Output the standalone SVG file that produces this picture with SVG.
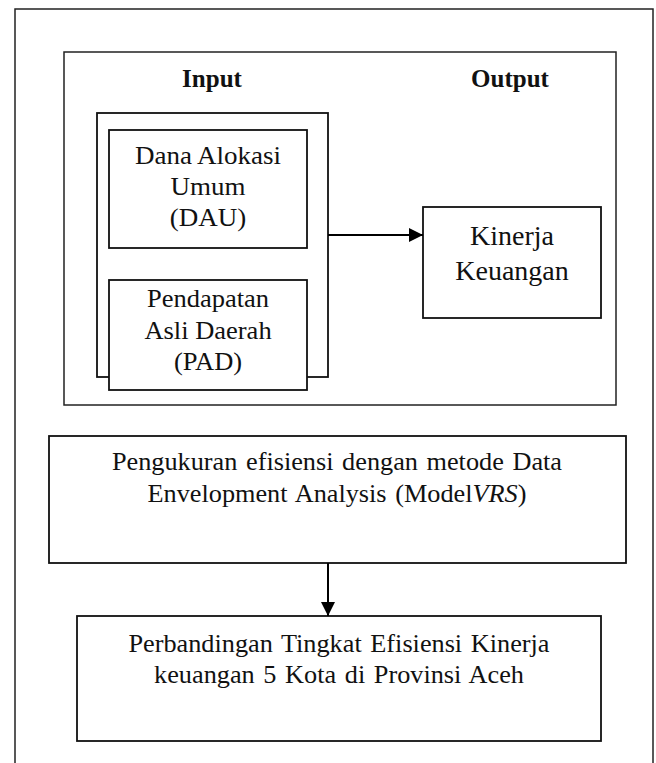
<svg xmlns="http://www.w3.org/2000/svg" width="656" height="763" viewBox="0 0 656 763">
<style>
.box{fill:#fff;stroke:#111;stroke-width:1.8}
.frame{fill:none;stroke:#222;stroke-width:1.5}
.t{font-family:"Liberation Serif","Times New Roman",serif;fill:#111;text-anchor:middle}
.b{font-weight:bold;font-size:25px}
.m{font-size:25px}
.k{font-size:28px}
.s{font-size:25px;word-spacing:2px}
.conn{fill:none;stroke:#000;stroke-width:2}
</style>
<defs>
<marker id="arr" viewBox="0 0 14 14" refX="14" refY="7" markerWidth="14" markerHeight="14" markerUnits="userSpaceOnUse" orient="auto">
<path d="M0,0 L14,7 L0,14 Z" fill="#000"/>
</marker>
</defs>
<rect id="outer-frame" class="frame" x="15" y="9" width="638" height="770"/>
<g id="model-frame">
<rect class="frame" x="64" y="52" width="552" height="353"/>
<text class="t b" x="212" y="87">Input</text>
<text class="t b" x="510" y="87">Output</text>
</g>
<g id="input-group">
<rect class="box" x="97" y="113" width="231" height="264"/>
</g>
<g id="dau">
<rect class="box" x="109" y="130" width="198" height="118"/>
<text class="t m" transform="translate(208,0) scale(1.08,1)" x="0" y="164">Dana Alokasi</text>
<text class="t m" transform="translate(208,0) scale(1.08,1)" x="0" y="195">Umum</text>
<text class="t m" transform="translate(208,0) scale(1.08,1)" x="0" y="226">(DAU)</text>
</g>
<g id="pad">
<rect class="box" x="109" y="280" width="198" height="110"/>
<text class="t m" transform="translate(208,0) scale(1.06,1)" x="0" y="307">Pendapatan</text>
<text class="t m" transform="translate(208,0) scale(1.06,1)" x="0" y="339">Asli Daerah</text>
<text class="t m" transform="translate(208,0) scale(1.06,1)" x="0" y="370">(PAD)</text>
</g>
<g id="kinerja">
<rect class="box" x="423" y="207" width="178" height="111"/>
<text class="t k" x="512" y="245">Kinerja</text>
<text class="t k" x="512" y="280">Keuangan</text>
</g>
<g id="dea">
<rect class="box" x="49" y="436" width="577" height="127"/>
<text class="t s" transform="translate(337,0) scale(1.05,1)" x="0" y="470">Pengukuran efisiensi dengan metode Data</text>
<text class="t s" transform="translate(337,0) scale(1.05,1)" x="0" y="502">Envelopment Analysis (Model<tspan font-style="italic">VRS</tspan>)</text>
</g>
<g id="perbandingan">
<rect class="box" x="77" y="616" width="524" height="125"/>
<text class="t s" transform="translate(339,0) scale(1.05,1)" x="0" y="652">Perbandingan Tingkat Efisiensi Kinerja</text>
<text class="t s" transform="translate(339,0) scale(1.05,1)" x="0" y="683">keuangan 5 Kota di Provinsi Aceh</text>
</g>
<g id="connectors">
<line class="conn" x1="328" y1="235" x2="423" y2="235" marker-end="url(#arr)"/>
<line class="conn" x1="328" y1="563" x2="328" y2="616" marker-end="url(#arr)"/>
</g>
</svg>
